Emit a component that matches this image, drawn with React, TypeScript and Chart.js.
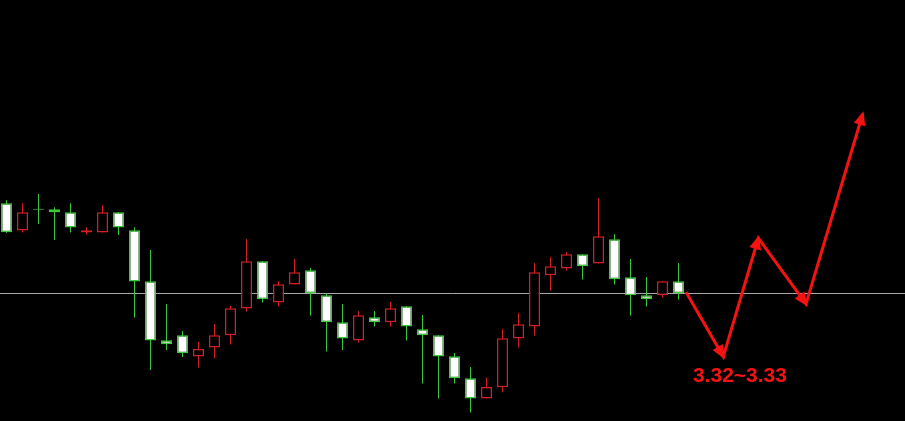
import React, { useEffect, useRef } from "react";
import { Chart, registerables } from "chart.js";

Chart.register(...registerables);

// Daily candles (price)
const opens = [
  4.089, 3.952, 4.061, 4.059, 4.044, 3.942, 3.942, 4.044, 3.954, 3.699,
  3.404, 3.429, 3.322, 3.367, 3.429, 3.562, 3.799, 3.592, 3.682, 3.754,
  3.629, 3.494, 3.402, 3.519, 3.494, 3.574, 3.459, 3.429, 3.324, 3.214,
  3.112, 3.169, 3.412, 3.472, 3.729, 3.762, 3.834, 3.787, 3.909, 3.719,
  3.629, 3.629, 3.699,
];
const highs = [
  4.104, 4.089, 4.135, 4.069, 4.089, 3.969, 4.079, 4.044, 3.969, 3.855,
  3.585, 3.45, 3.395, 3.485, 3.575, 3.91, 3.799, 3.699, 3.81, 3.765,
  3.639, 3.585, 3.55, 3.55, 3.595, 3.574, 3.53, 3.429, 3.34, 3.27,
  3.217, 3.46, 3.54, 3.79, 3.82, 3.845, 3.834, 4.114, 3.934, 3.81,
  3.72, 3.699, 3.79,
];
const lows = [
  3.94, 3.942, 3.985, 3.905, 3.942, 3.932, 3.942, 3.93, 3.517, 3.255,
  3.355, 3.32, 3.267, 3.312, 3.382, 3.547, 3.592, 3.574, 3.682, 3.527,
  3.347, 3.355, 3.392, 3.472, 3.472, 3.402, 3.187, 3.112, 3.187, 3.042,
  3.112, 3.144, 3.367, 3.427, 3.652, 3.752, 3.707, 3.787, 3.682, 3.527,
  3.572, 3.617, 3.607,
];
const closes = [
  3.944, 4.044, 4.056, 4.044, 3.967, 3.954, 4.044, 3.967, 3.697, 3.402,
  3.384, 3.339, 3.36, 3.429, 3.564, 3.799, 3.609, 3.684, 3.744, 3.639,
  3.494, 3.412, 3.529, 3.494, 3.564, 3.472, 3.429, 3.322, 3.214, 3.112,
  3.17, 3.414, 3.484, 3.744, 3.774, 3.834, 3.774, 3.924, 3.709, 3.629,
  3.609, 3.699, 3.639,
];

// Forecast path (zig-zag arrows)
const pathX = [42.47, 44.8, 46.99, 49.97, 53.51];
const pathY = [3.645, 3.322, 3.914, 3.585, 4.535];

// Reference level and target label
const refLevel = 3.6375;
const targetLabel = "3.32~3.33";
const labelX = 45.84;
const labelY = 3.197;

const RED = "#d42020";
const GREEN = "#3cc83c";
const ARROW = "#f51212";

export default function App() {
  const ref = useRef<HTMLCanvasElement | null>(null);

  useEffect(() => {
    document.body.style.margin = "0";
    document.body.style.background = "#000";
    const canvas = ref.current;
    if (!canvas) return;

    const idx = opens.map((_, i) => i);
    const isUp = idx.map((i) => closes[i] > opens[i]);

    const arrowPlugin = {
      id: "arrows",
      afterDatasetsDraw(chart: any) {
        const { ctx, scales } = chart;
        const xs = scales.x;
        const ys = scales.y;
        ctx.save();
        ctx.fillStyle = ARROW;
        for (let k = 1; k < pathX.length; k++) {
          const x0 = xs.getPixelForValue(pathX[k - 1]);
          const y0 = ys.getPixelForValue(pathY[k - 1]);
          const x1 = xs.getPixelForValue(pathX[k]);
          const y1 = ys.getPixelForValue(pathY[k]);
          const dx = x1 - x0;
          const dy = y1 - y0;
          const len = Math.hypot(dx, dy);
          const ux = dx / len;
          const uy = dy / len;
          const tipX = x1 + ux * 3;
          const tipY = y1 + uy * 3;
          const bx = tipX - ux * 14;
          const by = tipY - uy * 14;
          const px = -uy;
          const py = ux;
          ctx.beginPath();
          ctx.moveTo(tipX, tipY);
          ctx.lineTo(bx + px * 6, by + py * 6);
          ctx.lineTo(bx - px * 6, by - py * 6);
          ctx.closePath();
          ctx.fill();
        }
        ctx.font = 'bold 21px "Liberation Sans", Arial, sans-serif';
        ctx.textAlign = "center";
        ctx.textBaseline = "alphabetic";
        ctx.fillText(targetLabel, xs.getPixelForValue(labelX), ys.getPixelForValue(labelY));
        ctx.restore();
      },
    };

    const chart = new Chart(canvas, {
      type: "bar",
      data: {
        datasets: [
          {
            type: "line",
            data: [
              { x: -1, y: refLevel },
              { x: 58, y: refLevel },
            ],
            borderColor: "#a8a8a8",
            borderWidth: 1,
            pointRadius: 0,
            order: 3,
          } as any,
          {
            type: "bar",
            data: idx.map((i) => ({ x: i, y: [lows[i], highs[i]] })),
            backgroundColor: idx.map((i) => (isUp[i] ? RED : GREEN)),
            borderWidth: 0,
            barThickness: 1,
            grouped: false,
            inflateAmount: 0,
            order: 2,
          } as any,
          {
            type: "bar",
            data: idx.map((i) => ({ x: i, y: [opens[i], closes[i]] })),
            backgroundColor: idx.map((i) =>
              isUp[i] ? "#000000" : Math.abs(opens[i] - closes[i]) < 0.008 ? GREEN : "#ffffff"
            ),
            borderColor: idx.map((i) => (isUp[i] ? RED : GREEN)),
            borderWidth: 1.5,
            borderSkipped: false,
            barThickness: 11,
            grouped: false,
            inflateAmount: 0,
            order: 1,
          } as any,
          {
            type: "line",
            data: pathX.map((x, k) => ({ x, y: pathY[k] })),
            borderColor: ARROW,
            borderWidth: 3,
            pointRadius: 0,
            tension: 0,
            order: 0,
          } as any,
        ],
      },
      options: {
        animation: false,
        responsive: false,
        events: [],
        layout: { padding: 0 },
        plugins: { legend: { display: false }, tooltip: { enabled: false } },
        scales: {
          x: {
            type: "linear",
            display: false,
            offset: false,
            min: -0.40625,
            max: 56.15625,
          },
          y: {
            type: "linear",
            display: false,
            min: 3.0,
            max: 5.105,
          },
        },
      },
      plugins: [arrowPlugin],
    } as any);

    return () => chart.destroy();
  }, []);

  return (
    <div style={{ width: 905, height: 421, background: "#000" }}>
      <canvas ref={ref} width={905} height={421} style={{ display: "block", background: "#000" }} />
    </div>
  );
}
